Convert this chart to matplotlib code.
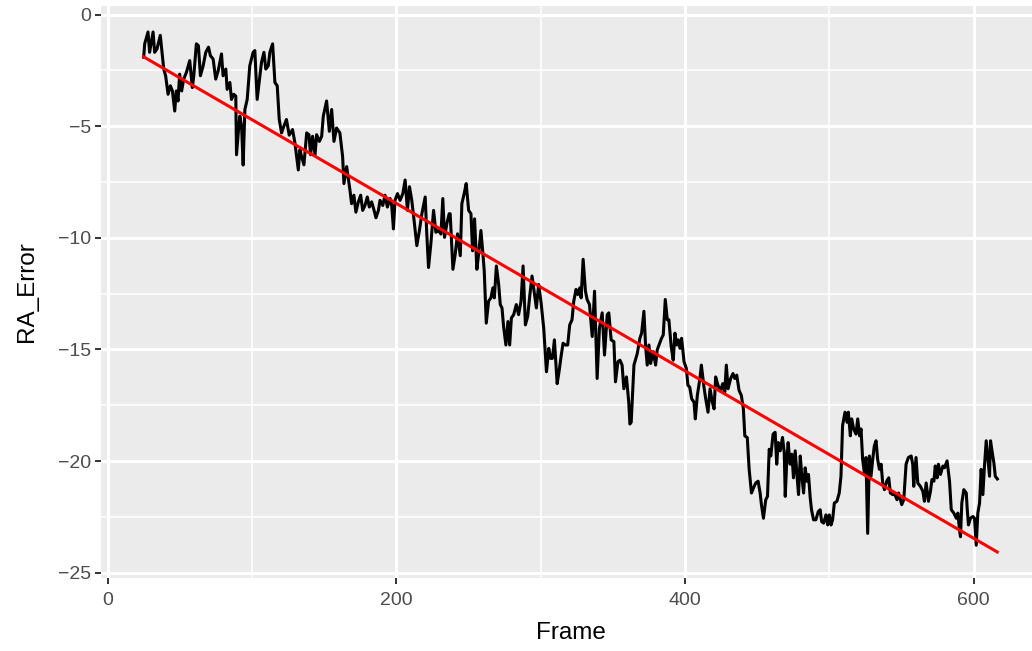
import numpy as np
import matplotlib
matplotlib.use("Agg")
import matplotlib.pyplot as plt
from matplotlib.ticker import MultipleLocator

plt.rcParams['font.family'] = ['Liberation Sans', 'DejaVu Sans']

# RA error per frame
frame = [
    25.0, 25.7, 28.0, 29.1, 31.5, 32.6, 34.2, 36.5, 37.9, 38.9, 40.2, 41.9, 43.5, 44.9,
    46.5, 47.6, 48.8, 49.9, 51.3, 52.7, 54.6, 56.9, 58.7, 59.7, 61.5, 62.9, 64.3, 66.2,
    68.0, 69.9, 71.2, 73.1, 74.9, 76.6, 78.9, 80.0, 81.9, 82.8, 84.7, 85.8, 87.4, 88.8,
    89.3, 90.7, 91.6, 92.8, 93.9, 95.1, 96.7, 98.5, 100.8, 102.0, 103.6, 105.0, 106.6,
    108.3, 109.6, 111.3, 112.4, 114.3, 115.9, 117.5, 118.9, 120.5, 122.1, 123.9, 125.8,
    128.1, 129.8, 132.1, 133.2, 134.4, 136.0, 137.9, 139.5, 140.6, 142.0, 143.7, 144.8,
    146.7, 148.3, 149.4, 151.7, 153.6, 155.2, 156.8, 158.6, 160.9, 162.8, 163.7, 165.6,
    167.9, 169.0, 170.6, 172.0, 173.7, 175.3, 176.7, 178.3, 179.9, 181.3, 182.9, 184.6,
    185.9, 187.6, 188.7, 190.6, 192.2, 193.8, 195.7, 196.8, 198.0, 199.1, 200.8, 202.6,
    204.5, 206.1, 207.7, 209.1, 210.7, 212.3, 214.2, 216.0, 217.7, 220.0, 221.1, 222.3,
    223.9, 225.8, 227.4, 229.2, 230.9, 232.2, 233.4, 235.0, 236.6,
    237.3, 239.2, 240.8, 242.4, 244.3, 245.4, 247.0, 248.4, 250.1, 251.7, 252.8, 254.2,
    255.8, 257.0, 258.6, 260.0, 260.9, 262.3, 263.9, 265.5, 266.9, 267.9, 269.3, 270.9,
    272.0, 273.2, 274.3, 275.9, 277.3, 278.5, 279.7, 281.3, 283.1, 284.7, 286.4, 287.8,
    289.4, 291.0, 292.4, 294.0, 295.6, 297.0, 298.6, 300.3, 302.1, 304.0, 305.6, 306.8,
    308.1, 309.5, 311.4, 312.7, 314.1, 315.5, 317.1, 318.7, 320.1, 321.7, 322.9, 324.5,
    325.7, 327.1, 328.0, 329.4, 331.0, 332.2, 333.8,
    335.7, 337.3, 339.1, 340.7, 342.6, 344.2, 346.1, 347.2, 348.8, 350.7, 351.8, 353.5,
    354.9, 356.4, 357.6, 359.4, 361.0, 361.8, 362.7, 364.6, 366.9, 368.7, 369.9, 371.5,
    372.7, 373.8, 375.0, 376.1, 378.0, 379.6, 380.7, 382.4, 383.7, 384.9, 386.3, 387.7,
    388.8, 390.4, 391.8, 393.0, 394.2, 395.3, 396.5, 397.6, 399.3, 400.9, 402.0, 403.2,
    404.6, 406.2, 407.1, 408.5, 410.3, 411.3, 413.1, 414.3, 415.9, 417.3, 418.9, 420.1,
    421.2, 422.8, 424.7, 426.1, 427.5, 428.6, 429.8, 431.6, 433.2, 434.4, 435.8, 437.4,
    439.0, 440.4, 441.4, 443.1,
    444.4, 446.0, 447.4, 449.0, 450.6, 452.0, 452.9, 454.3, 455.9, 457.1, 458.3, 459.4,
    461.0, 462.4, 463.5, 464.5, 465.9, 467.5, 468.7, 469.4, 470.5, 471.4, 472.8, 474.0,
    475.1, 476.3, 477.5, 478.6, 479.8, 480.9, 482.1, 483.2, 484.4, 485.5, 486.7, 487.6,
    489.0, 490.6, 492.3, 493.6, 494.6, 496.0, 497.6, 498.8, 499.9, 501.1, 502.2, 503.4,
    505.2, 506.8, 508.0, 509.1, 510.8, 512.2, 513.1, 514.5, 515.4, 516.8, 518.4, 519.6,
    520.9, 521.9, 523.0, 524.2, 525.3, 526.5, 527.7, 528.8, 530.0, 531.1, 532.3, 533.4,
    534.6, 535.8, 536.9, 538.1, 539.7, 541.1, 542.2, 543.8, 545.4, 546.8, 547.9,
    550.1, 551.5, 553.1, 554.7, 556.6, 557.7, 558.4, 560.0, 561.2, 563.0, 564.7, 565.8,
    567.0, 568.6, 570.0, 571.0, 572.4, 573.3, 574.6, 575.5, 576.9, 578.6, 579.7, 581.5,
    583.2, 584.4, 586.2, 587.9, 589.0, 590.1, 590.8, 591.7, 593.1, 594.8, 595.4, 596.3,
    597.7, 599.4, 600.5, 601.7, 602.8, 604.0, 605.1, 606.3, 607.4, 608.6, 609.8, 610.9,
    611.6, 612.8, 613.9, 614.9, 616.3,
]
ra_error = [
    -1.91, -1.31, -0.78, -1.69, -0.78, -1.69, -1.54, -0.93, -1.84, -2.44, -2.74, -3.57, -3.19, -3.42,
    -4.32, -3.42, -3.87, -2.67, -3.42, -2.89, -2.59, -2.06, -3.27, -2.74, -1.31, -1.39, -2.74, -2.29,
    -1.69, -1.46, -1.84, -1.99, -2.89, -2.52, -1.76, -2.74, -2.44, -3.35, -3.04, -3.80, -3.57, -3.65,
    -6.28, -5.15, -4.55, -5.00, -6.74, -4.25, -3.80, -2.29, -1.69, -1.61, -3.80, -3.04, -2.14,
    -1.69, -2.44, -2.29, -1.69, -1.31, -3.04, -3.19, -4.70, -5.30, -5.00, -4.70, -5.40,
    -5.15, -5.76, -6.96, -6.06, -6.36, -6.73, -5.30, -5.38, -6.28, -5.45, -6.28, -5.38,
    -5.68, -5.45, -4.55, -3.87, -5.23, -4.25, -5.68, -5.08, -5.30, -6.36, -7.57, -6.81,
    -7.87, -8.47, -8.09, -8.85, -8.39, -8.09, -8.77, -8.55, -8.17, -8.62, -8.39, -8.77,
    -9.10, -8.77, -8.32, -8.55, -8.09, -8.62, -8.24, -8.55, -9.60, -8.32, -8.02, -8.32,
    -8.02, -7.41, -8.77, -7.71, -8.32, -9.22, -10.35, -9.67, -8.92, -8.17, -9.83, -11.33,
    -10.28, -8.77, -9.75, -9.67, -9.83, -8.24, -9.98, -9.37, -8.92,
    -8.92, -11.41, -10.73, -9.82, -10.80, -8.47, -8.02, -7.57, -8.77, -8.92, -10.58, -9.15,
    -11.41, -10.73, -9.67, -10.73, -11.48, -13.82, -12.84, -12.69, -12.24, -12.69, -11.26, -12.09,
    -12.99, -13.14, -13.97, -14.80, -13.75, -14.80, -13.59, -13.44, -12.99, -13.44, -12.84, -11.26,
    -13.90, -13.52, -12.61, -11.71, -12.46, -13.14, -12.09, -12.92, -14.05, -16.00, -14.95, -15.40,
    -15.40, -14.57, -16.53, -16.00, -15.32, -14.72, -14.80, -14.80, -13.90, -13.67, -12.84, -12.31,
    -12.54, -12.24, -12.69, -10.96, -12.39, -12.77, -12.99,
    -14.42, -12.39, -16.30, -14.04, -13.36, -15.25, -13.44, -13.36, -14.57, -14.65, -16.45, -15.55,
    -15.48, -15.70, -16.76, -16.23, -17.36, -18.34, -18.26, -15.70, -15.18, -14.50, -14.27, -13.29,
    -14.87, -15.70, -14.80, -15.63, -15.10, -15.70, -15.02, -14.72, -14.50, -14.35, -12.76, -13.67,
    -13.67, -14.87, -15.48, -14.27, -14.80, -14.57, -14.95, -14.50, -15.55, -15.85, -16.61, -16.68,
    -17.21, -17.36, -18.11, -17.06, -16.30, -15.70, -16.68, -17.21, -17.81, -16.76, -17.36, -17.66,
    -16.23, -16.61, -16.83, -16.53, -16.91, -15.70, -16.76, -16.30, -16.08, -16.30, -16.15, -16.83,
    -17.06, -17.66, -18.87, -18.95,
    -20.37, -21.43, -21.20, -20.98, -20.90, -21.43, -21.95, -22.56, -21.73, -21.58, -19.47, -19.77,
    -18.79, -18.71, -20.14, -19.17, -19.54, -18.94, -19.62, -21.58, -19.92, -19.17, -20.14, -19.69,
    -20.75, -19.54, -20.60, -21.50, -19.77, -20.68, -21.43, -20.30, -20.90, -20.60, -21.65, -22.18,
    -22.63, -22.63, -22.26, -22.18, -22.71, -22.78, -22.41, -22.86, -22.41, -22.86, -22.63, -21.88,
    -21.80, -21.43, -20.68, -18.41, -17.81, -18.26, -17.81, -18.87, -18.11, -18.56, -18.79, -18.11,
    -18.87, -18.56, -19.92, -20.52, -19.84, -23.24, -19.77, -20.68, -19.92, -19.32, -19.09, -19.92,
    -20.37, -20.14, -20.98, -21.28, -20.90, -20.75, -21.43, -21.50, -21.50, -21.73, -21.43,
    -21.95, -21.73, -20.14, -19.84, -19.77, -20.14, -21.13, -19.84, -20.98, -21.13, -21.35, -21.80,
    -20.98, -21.80, -21.35, -20.83, -20.90, -20.22, -20.75, -20.14, -20.60, -20.22, -20.30, -19.99,
    -20.90, -22.18, -22.33, -22.56, -22.33, -23.09, -23.39, -21.88, -21.28, -21.43, -22.10, -22.86,
    -22.56, -22.48, -22.56, -23.77, -22.33, -21.88, -20.37, -21.50, -20.22, -19.09, -19.92, -20.68,
    -19.09, -19.62, -20.07, -20.68, -20.80,
]

x = np.array(frame)
y = np.array(ra_error)

# linear fit (like geom_smooth(method = "lm"))
coef = np.polyfit(x, y, 1)
xfit = np.array([x.min(), x.max()])
yfit = np.polyval(coef, xfit)

fig = plt.figure(figsize=(10.32, 6.51), dpi=100)
# panel runs a little past the right edge, as in the reference
ax = fig.add_axes([101 / 1032, 1 - 578 / 651, 939 / 1032, 572 / 651])
ax.set_facecolor('#EBEBEB')

ax.plot(x, y, color='black', linewidth=2.2, zorder=3)
ax.plot(xfit, yfit, color='#FF0000', linewidth=2.2, zorder=4)

# ggplot-style limits: data range plus 5% on each side
xr = x.max() - x.min()
ax.set_xlim(x.min() - 0.05 * xr, x.max() + 0.05 * xr)
ylo = min(y.min(), yfit.min())
yhi = max(y.max(), yfit.max())
yr = yhi - ylo
ax.set_ylim(ylo - 0.05 * yr, yhi + 0.05 * yr)

ax.xaxis.set_major_locator(MultipleLocator(200))
ax.xaxis.set_minor_locator(MultipleLocator(100))
ax.yaxis.set_major_locator(MultipleLocator(5))
ax.yaxis.set_minor_locator(MultipleLocator(2.5))

ax.grid(which='major', color='white', linewidth=2.2)
ax.grid(which='minor', color='white', linewidth=1.1)
ax.set_axisbelow(True)
for s in ax.spines.values():
    s.set_visible(False)

ax.tick_params(which='major', length=4.3, width=1.4, color='#333333',
               labelsize=14, labelcolor='#4D4D4D', pad=3)
ax.tick_params(axis='x', which='major', pad=6)
ax.tick_params(which='minor', length=0)

ax.set_xlabel('Frame', fontsize=17.5, labelpad=9)
ax.set_ylabel('RA_Error', fontsize=17.5, labelpad=14)

fig.savefig('out.png', dpi=100)
